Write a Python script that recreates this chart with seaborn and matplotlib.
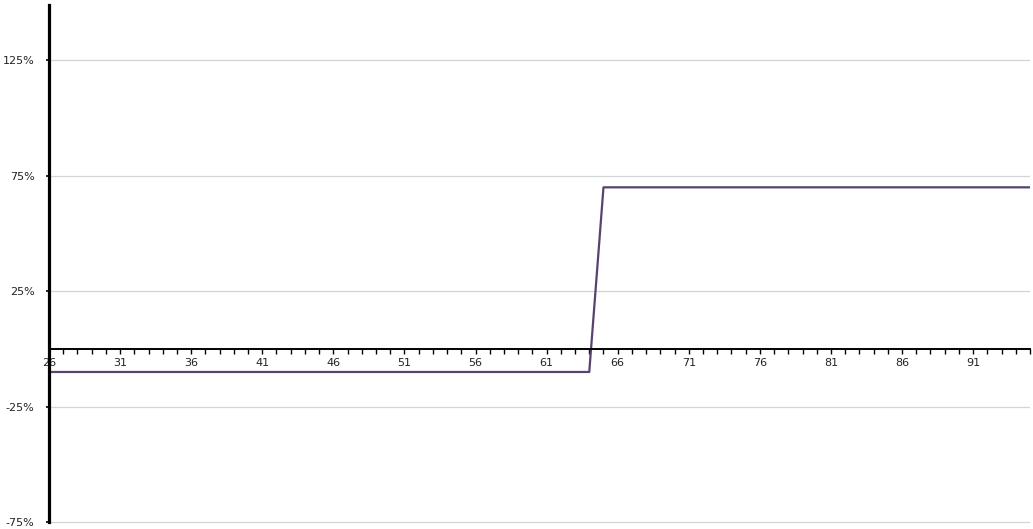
import seaborn as sns
import matplotlib.pyplot as plt
from matplotlib.ticker import MultipleLocator, FuncFormatter

sns.set_theme(style="white")

# Sample data (category axis 26..95, values in %)
x = list(range(26, 96))
y = [-10, -10, -10, -10, -10, -10, -10, -10, -10, -10,
     -10, -10, -10, -10, -10, -10, -10, -10, -10, -10,
     -10, -10, -10, -10, -10, -10, -10, -10, -10, -10,
     -10, -10, -10, -10, -10, -10, -10, -10, -10,
     70, 70, 70, 70, 70, 70, 70, 70, 70, 70,
     70, 70, 70, 70, 70, 70, 70, 70, 70, 70,
     70, 70, 70, 70, 70, 70, 70, 70, 70, 70, 70]
y_ticks = [-75, -25, 25, 75, 125]
x_ticks = [26, 31, 36, 41, 46, 51, 56, 61, 66, 71, 76, 81, 86, 91]

fig = plt.figure(figsize=(10.33, 5.29), dpi=100)
ax = fig.add_axes([49 / 1033, 4.7 / 529, 981 / 1033, 519.3 / 529])

sns.lineplot(x=x, y=y, color='#574270', linewidth=1.6, ax=ax)

ax.set_xlim(26, 95)
ax.set_ylim(-76, 149)

# horizontal gridlines
ax.set_yticks(y_ticks)
ax.yaxis.grid(True, color='#d4d4d4', linewidth=0.9)
ax.xaxis.grid(False)
ax.set_axisbelow(True)
ax.yaxis.set_major_formatter(FuncFormatter(lambda v, p: f"{int(v)}%"))

# x axis crosses at zero
ax.spines['bottom'].set_position(('data', 0))
ax.spines['bottom'].set_linewidth(1.4)
ax.spines['bottom'].set_color('black')
ax.spines['left'].set_linewidth(2.3)
ax.spines['left'].set_color('black')
ax.spines['left'].set_bounds(-75, 149)
ax.spines['top'].set_visible(False)
ax.spines['right'].set_visible(False)

ax.set_xticks(x_ticks)
ax.xaxis.set_minor_locator(MultipleLocator(1))
ax.tick_params(axis='x', which='both', direction='out', length=3.5, width=1,
               color='black', bottom=True, labelsize=8, pad=3)
ax.tick_params(axis='y', which='major', direction='out', length=2.5, width=1.2,
               color='black', left=True, labelsize=8, pad=8)
for lab in ax.get_xticklabels() + ax.get_yticklabels():
    lab.set_color('#222222')

ax.set_xlabel('')
ax.set_ylabel('')

plt.savefig('out.png', dpi=100)
